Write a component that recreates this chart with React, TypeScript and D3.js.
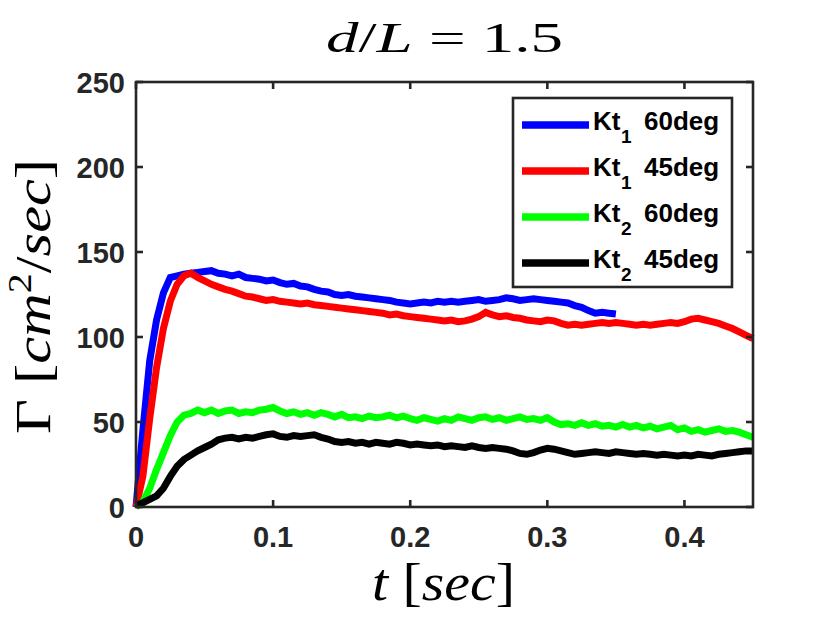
import * as d3 from "d3"

// sample spacing of the recorded circulation series (sec)
const timeStep = 0.005

// Kt1 60deg (ends at t = 0.35)
const kt1Deg60 = [
  0, 45, 86, 110, 126, 135, 136, 137, 137.5, 138,
  138.5, 139, 137.5, 137, 136, 137, 135, 134.5, 134, 133,
  133.5, 132, 131, 131.5, 130, 129.5, 128, 127, 126.5, 125,
  124.5, 125, 124, 123.5, 123, 122.5, 122, 121.5, 120.5, 120,
  119.5, 120, 120.5, 120, 121, 120.5, 121, 120.5, 121, 121.5,
  122, 121, 121.5, 122, 123, 122.5, 121.5, 122, 122.5, 122,
  121.5, 121, 120.5, 120, 118.5, 117.5, 115.5, 114, 114.5, 114,
  113.5
]

// Kt1 45deg
const kt1Deg45 = [
  0, 18, 52, 82, 105, 121, 131, 136, 137.5, 135,
  133, 131, 129.5, 128, 127, 125.5, 124, 123.5, 122.5, 121.5,
  122, 121, 120.5, 120, 119.5, 120, 119, 118.5, 118, 117.5,
  117, 116.5, 116, 115.5, 115, 114.5, 114, 113, 113.5, 112.5,
  112, 111.5, 111, 110.5, 110, 109.5, 110, 109, 109.5, 110.5,
  112, 114.5, 113, 112, 112.5, 111.5, 111, 110, 109.5, 109,
  110, 109.5, 108, 107, 107.5, 107, 107.5, 108, 108.5, 108,
  108.5, 108, 107.5, 107, 107.5, 107, 107.5, 108, 108.5, 108,
  109, 110.5, 111, 110, 109, 108, 106.5, 105, 103, 101,
  99
]

// Kt2 60deg
const kt2Deg60 = [
  0, 3, 11, 22, 32, 42, 50, 54, 55, 57,
  55.5, 57, 55, 56.5, 57, 55, 56, 55.5, 57, 57.5,
  58.5, 56.5, 55, 56, 54.5, 55.5, 54, 55.5, 54.5, 53,
  54.5, 52.5, 53, 52, 53.5, 52.5, 53, 54, 52.5, 53.5,
  52, 51, 52.5, 51.5, 50.5, 52, 51, 53, 52, 51,
  52.5, 53, 51.5, 52.5, 51, 52, 53, 51.5, 52, 51,
  52.5, 50, 48.5, 49, 48, 49.5, 48, 49, 47.5, 48,
  47, 48.5, 47, 48, 46.5, 47.5, 46, 47, 48, 45.5,
  46.5, 44.5, 45.5, 44, 45, 46, 44.5, 45, 44, 42.5,
  41
]

// Kt2 45deg
const kt2Deg45 = [
  1, 2.5, 4.5, 6.5, 11, 18, 24, 28, 30.5, 33,
  35, 37, 39.5, 40.5, 41, 40, 41, 40.5, 41.5, 42.5,
  43, 41.5, 41, 42, 41.5, 42, 42.5, 41, 40, 38.5,
  38, 38.5, 37.5, 38, 37, 38, 37.5, 37, 38, 37.5,
  36.5, 37, 36.5, 36, 36.5, 35.5, 36, 35.5, 35, 36,
  35, 34.5, 35, 34.5, 34, 33, 31.5, 31, 32, 33.5,
  34.5, 34, 33, 32, 31, 31.5, 32, 32.5, 32, 31.5,
  32.5, 32, 31.5, 31, 31.5, 31, 30.5, 31, 30.5, 30,
  30.5, 30, 31, 30.5, 30, 31, 31.5, 32, 32.5, 33,
  33
]

const seriesValues = [kt1Deg60, kt1Deg45, kt2Deg60, kt2Deg45]
const seriesColors = ["#0000ff", "#ff0000", "#00ff00", "#000000"]
const legendSubs = ["1", "1", "2", "2"]
const legendAngles = ["60deg", "45deg", "60deg", "45deg"]

const xTicks = [0, 0.1, 0.2, 0.3, 0.4]
const yTicks = [0, 50, 100, 150, 200, 250]

const width = 830
const height = 623
const left = 136
const right = 753
const top = 82
const bottom = 507
const axisColor = "#262626"
const sans = "'Liberation Sans', Arial, sans-serif"
const serif = "'Liberation Serif', 'DejaVu Serif', serif"

export default function App() {
  const x = d3.scaleLinear().domain([0, 0.45]).range([left, right])
  const y = d3.scaleLinear().domain([0, 250]).range([bottom, top])

  const line = d3.line<number>()
    .x((_, i) => x(i * timeStep))
    .y(d => y(d))

  const legendX = 513
  const legendY = 98
  const rowGap = 46

  return (
    <svg width={width} height={height}
      style={{ position: "absolute", left: 0, top: 0, background: "#fff" }}>
      <rect x={0} y={0} width={width} height={height} fill="#fff" />

      {/* series */}
      {seriesValues.map((vals, i) => (
        <path key={i} d={line(vals) ?? ""} fill="none"
          stroke={seriesColors[i]} strokeWidth={7} strokeLinejoin="miter" />
      ))}

      {/* box + ticks */}
      <rect x={left} y={top} width={right - left} height={bottom - top}
        fill="none" stroke={axisColor} strokeWidth={2.6} />
      {xTicks.map(t => (
        <g key={"x" + t}>
          <line x1={x(t)} x2={x(t)} y1={bottom} y2={bottom - 7} stroke={axisColor} strokeWidth={2.6} />
          <line x1={x(t)} x2={x(t)} y1={top} y2={top + 7} stroke={axisColor} strokeWidth={2.6} />
          <text x={x(t)} y={547} textAnchor="middle" fontFamily={sans} fontWeight="bold"
            fontSize={29} fill={axisColor}>{t === 0 ? "0" : d3.format(".1f")(t)}</text>
        </g>
      ))}
      {yTicks.map(v => (
        <g key={"y" + v}>
          <line x1={left} x2={left + 7} y1={y(v)} y2={y(v)} stroke={axisColor} strokeWidth={2.6} />
          <line x1={right} x2={right - 7} y1={y(v)} y2={y(v)} stroke={axisColor} strokeWidth={2.6} />
          <text x={125} y={y(v) + 10.5} textAnchor="end" fontFamily={sans} fontWeight="bold"
            fontSize={29} fill={axisColor}>{v}</text>
        </g>
      ))}

      {/* legend */}
      <rect x={legendX} y={legendY} width={219} height={189} fill="#fff"
        stroke={axisColor} strokeWidth={2.6} />
      {seriesColors.map((c, i) => {
        const cy = 125 + i * rowGap
        return (
          <g key={"l" + i}>
            <line x1={522} x2={589} y1={cy} y2={cy} stroke={c} strokeWidth={7.5} />
            <text y={cy + 4.5} fontFamily={sans} fontWeight="bold" fill="#000">
              <tspan x={593} fontSize={26}>Kt</tspan>
              <tspan x={621} dy={13} fontSize={19}>{legendSubs[i]}</tspan>
              <tspan x={644} dy={-13} fontSize={26}>{legendAngles[i]}</tspan>
            </text>
          </g>
        )
      })}

      {/* title */}
      <text x={326} y={52} fontFamily={serif} fontSize={42} fill="#000"
        textLength={237} lengthAdjust="spacingAndGlyphs">
        <tspan fontStyle="italic">d</tspan>
        <tspan>/</tspan>
        <tspan fontStyle="italic">L</tspan>
        <tspan> = 1.5</tspan>
      </text>

      {/* x label */}
      <text x={372} y={600} fontFamily={serif} fontSize={52} fill="#000"
        textLength={143} lengthAdjust="spacingAndGlyphs">
        <tspan fontStyle="italic">t</tspan>
        <tspan> [</tspan>
        <tspan fontStyle="italic">sec</tspan>
        <tspan>]</tspan>
      </text>

      {/* y label */}
      <text transform="translate(50,434) rotate(-90)" fontFamily={serif}
        fontSize={50} fill="#000" textLength={275} lengthAdjust="spacingAndGlyphs">
        <tspan>Γ [</tspan>
        <tspan fontStyle="italic">cm</tspan>
        <tspan fontSize={33} dy={-19}>2</tspan>
        <tspan dy={19}>/</tspan>
        <tspan fontStyle="italic">sec</tspan>
        <tspan>]</tspan>
      </text>
    </svg>
  )
}
